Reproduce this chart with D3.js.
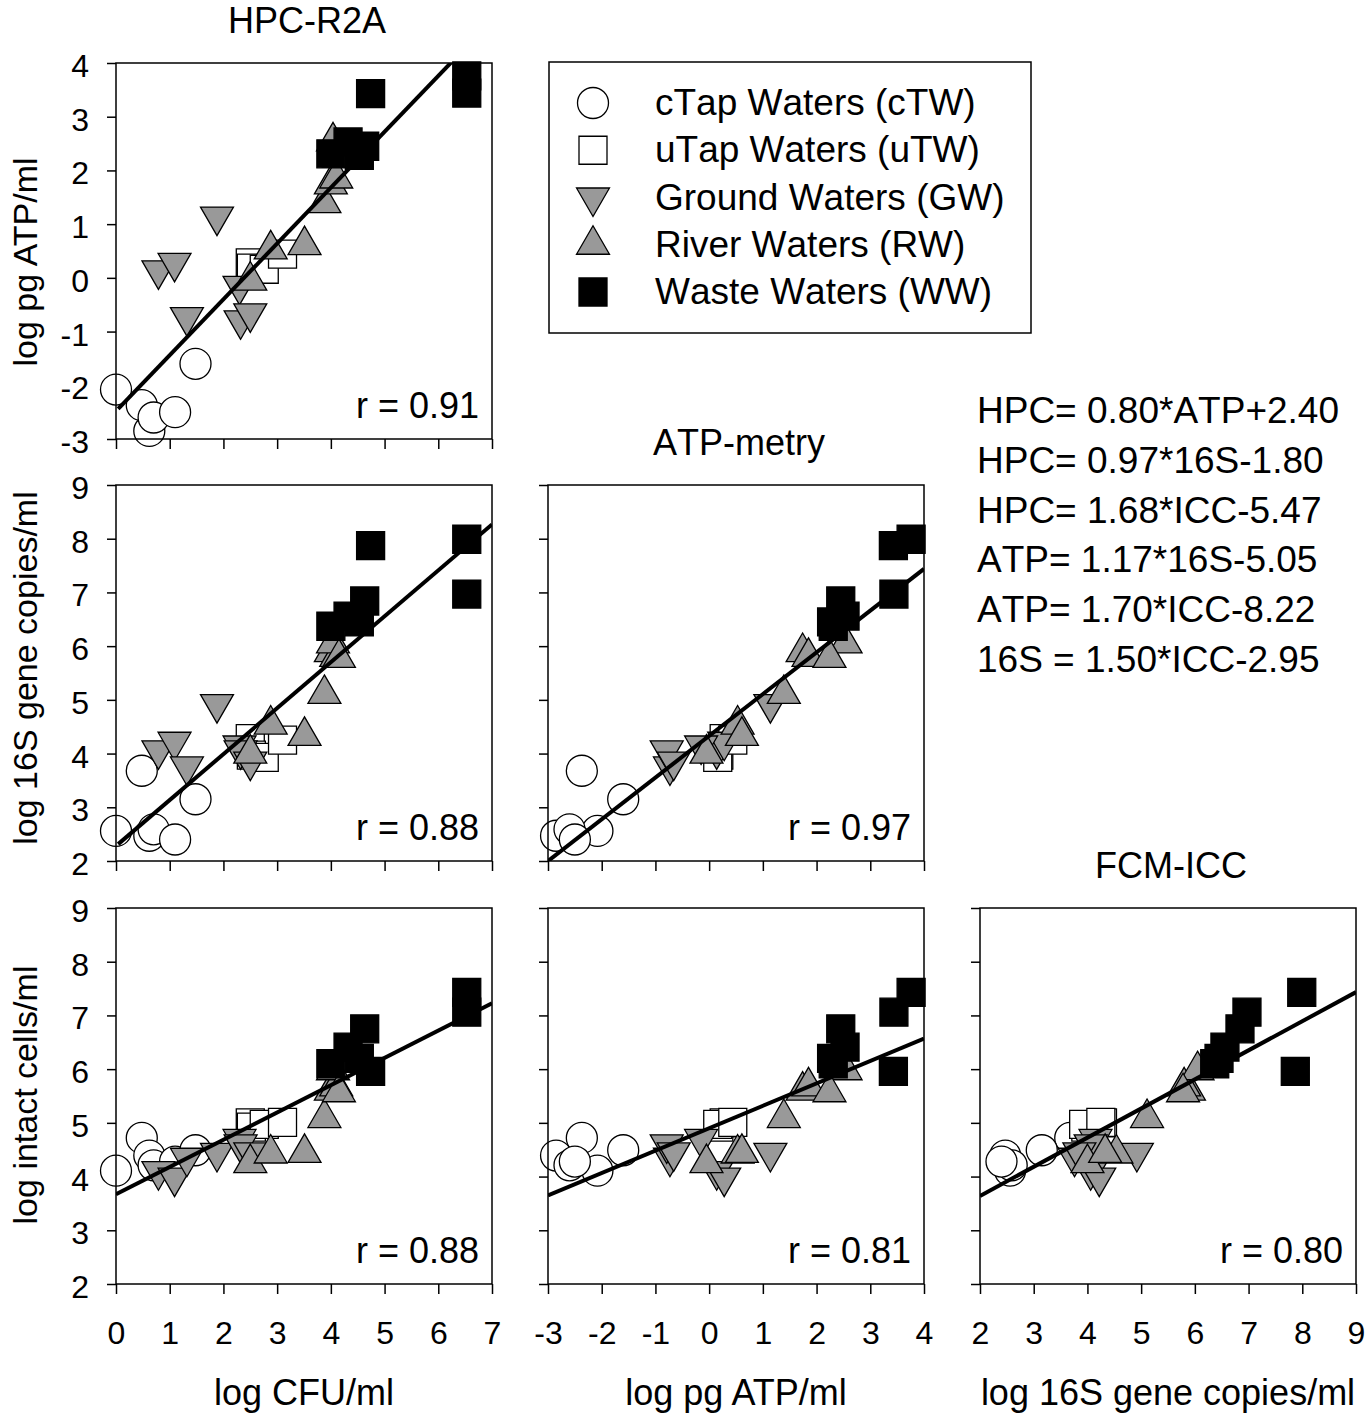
<!DOCTYPE html>
<html>
<head>
<meta charset="utf-8">
<script src="https://cdn.jsdelivr.net/npm/d3@7"></script>
<style>
  body { margin: 0; background: #fff; }
  svg text { font-family: "Liberation Sans", Arial, sans-serif; fill: #000; }
</style>
</head>
<body>
<svg id="chart" width="1371" height="1421"></svg>
<script>
// 試料のグループ(凡例の順)
const groupNames = ["cTW", "uTW", "GW", "RW", "WW"];
const legendLabels = [
  "cTap Waters (cTW)",
  "uTap Waters (uTW)",
  "Ground Waters (GW)",
  "River Waters (RW)",
  "Waste Waters (WW)",
];

// 試料ごとの値 (log)  HPC / ATP / 16S / ICC
const sampleGroup = [
  "cTW", "cTW", "cTW", "cTW", "cTW", "cTW",
  "uTW", "uTW", "uTW", "uTW",
  "GW", "GW", "GW", "GW", "GW", "GW", "GW",
  "RW", "RW", "RW", "RW", "RW", "RW", "RW", "RW",
  "WW", "WW", "WW", "WW", "WW", "WW", "WW",
];
const hpc = [
  0.0, 0.48, 0.62, 0.7, 1.1, 1.48,
  2.5, 2.52, 2.76, 3.1,
  0.79, 1.09, 1.32, 1.88, 2.3, 2.32, 2.5,
  2.5, 2.88, 3.51, 3.88, 4.0, 4.1, 4.04, 4.15,
  4.0, 4.32, 4.63, 4.53, 4.74, 6.53, 6.53,
];
const atp = [
  -2.08, -2.37, -2.85, -2.6, -2.5, -1.6,
  0.28, 0.18, 0.16, 0.44,
  0.14, 0.28, -0.73, 1.14, -0.15, -0.79, -0.66,
  -0.05, 0.53, 0.61, 1.39, 1.74, 1.85, 2.54, 2.24,
  2.31, 2.53, 2.45, 2.28, 3.43, 3.76, 3.44,
];
const s16 = [
  2.56, 3.68, 2.47, 2.59, 2.4, 3.15,
  4.28, 3.97, 3.93, 4.25,
  4.06, 4.22, 3.76, 4.92, 4.15, 4.06, 3.85,
  4.0, 4.54, 4.33, 5.11, 5.89, 5.8, 6.05, 5.78,
  6.37, 6.56, 6.84, 6.45, 7.87, 7.99, 6.97,
];
const icc = [
  4.11, 4.72, 4.39, 4.21, 4.28, 4.49,
  5.0, 4.92, 4.97, 5.01,
  4.1, 3.98, 4.35, 4.44, 4.7, 4.6, 4.45,
  4.25, 4.43, 4.44, 5.09, 5.6, 5.68, 5.98, 5.57,
  6.1, 6.41, 6.75, 6.2, 5.96, 7.43, 7.06,
];

// 変数と軸の範囲
const varValues = [hpc, atp, s16, icc];
const varDomains = [[0, 7], [-3, 4], [2, 9], [2, 9]];

// パネル: x変数, y変数, 行, 列
const panelXVar = [0, 0, 1, 0, 1, 2];
const panelYVar = [1, 2, 2, 3, 3, 3];
const panelRow = [0, 1, 1, 2, 2, 2];
const panelCol = [0, 0, 1, 0, 1, 2];

// 回帰直線 (y = slope * x + intercept) と r
const fitSlope = [1.04, 0.855, 0.777, 0.508, 0.417, 0.542];
const fitIntercept = [-2.48, 2.28, 4.33, 3.67, 4.9, 2.556];
const fitStart = [0.04, 0.04, -3, 0, -3, 2];
const rValues = ["0.91", "0.88", "0.97", "0.88", "0.81", "0.80"];

const diagTitles = ["HPC-R2A", "ATP-metry", "FCM-ICC"];
const xAxisLabels = ["log CFU/ml", "log pg ATP/ml", "log 16S gene copies/ml"];
const yAxisLabels = ["log pg ATP/ml", "log 16S gene copies/ml", "log intact cells/ml"];
const equations = [
  "HPC= 0.80*ATP+2.40",
  "HPC= 0.97*16S-1.80",
  "HPC= 1.68*ICC-5.47",
  "ATP= 1.17*16S-5.05",
  "ATP= 1.70*ICC-8.22",
  "16S = 1.50*ICC-2.95",
];

// レイアウト
const colX = [116, 548, 980];
const rowY = [63, 485, 908];
const side = 376;
const yLabelCenter = [262, 668, 1095];
const grayFill = "#999999";

const svg = d3.select("#chart");

// 記号の描き方
const markerStyle = {
  cTW: { type: d3.symbolCircle, size: 755, fill: "#fff", rot: 0 },
  uTW: { type: d3.symbolSquare, size: 784, fill: "#fff", rot: 0 },
  GW: { type: d3.symbolTriangle, size: 470, fill: grayFill, rot: 180 },
  RW: { type: d3.symbolTriangle, size: 470, fill: grayFill, rot: 0 },
  WW: { type: d3.symbolSquare, size: 784, fill: "#000", rot: 0 },
};

function drawMarker(sel, grp) {
  var m = markerStyle[grp];
  sel
    .attr("d", d3.symbol().type(m.type).size(m.size)())
    .attr("fill", m.fill)
    .attr("stroke", "#000")
    .attr("stroke-width", 1.3);
}

const sampleIdx = d3.range(hpc.length);

panelXVar.forEach((xv, i) => {
  var yv = panelYVar[i];
  var r = panelRow[i];
  var c = panelCol[i];
  var x = d3.scaleLinear().domain(varDomains[xv]).range([colX[c], colX[c] + side]);
  var y = d3.scaleLinear().domain(varDomains[yv]).range([rowY[r] + side, rowY[r]]);
  var g = svg.append("g").attr("class", "panel");

  // 左の目盛り
  var yAxis = d3
    .axisLeft(y)
    .tickValues(d3.range(varDomains[yv][0], varDomains[yv][1] + 1))
    .tickSize(9)
    .tickSizeOuter(0)
    .tickPadding(18)
    .tickFormat((d) => (c == 0 ? String(d) : ""));
  var ya = g.append("g").attr("transform", `translate(${colX[c]},0)`).call(yAxis);
  ya.select(".domain").remove();
  ya.attr("font-size", 32);
  ya.selectAll("line").attr("stroke-width", 1.5);
  ya.selectAll("text").attr("dy", "0.42em");

  // 下の目盛り
  var xAxis = d3
    .axisBottom(x)
    .tickValues(d3.range(varDomains[xv][0], varDomains[xv][1] + 1))
    .tickSize(10)
    .tickSizeOuter(0)
    .tickPadding(27)
    .tickFormat((d) => (r == 2 ? String(d) : ""));
  var xa = g.append("g").attr("transform", `translate(0,${rowY[r] + side})`).call(xAxis);
  xa.select(".domain").remove();
  xa.attr("font-size", 32);
  xa.selectAll("line").attr("stroke-width", 1.5);

  // 点
  g.append("g")
    .selectAll("path")
    .data(sampleIdx)
    .enter()
    .append("path")
    .attr("transform", (d) => {
      var rot = markerStyle[sampleGroup[d]].rot;
      return `translate(${x(varValues[xv][d])},${y(varValues[yv][d])}) rotate(${rot})`;
    })
    .each(function (d) {
      d3.select(this).call(drawMarker, sampleGroup[d]);
    });

  // 回帰直線 (枠でクリップ)
  var clipId = `clip${i}`;
  svg.append("clipPath").attr("id", clipId)
    .append("rect")
    .attr("x", colX[c]).attr("y", rowY[r])
    .attr("width", side).attr("height", side);
  var x0 = fitStart[i];
  var x1 = varDomains[xv][1];
  var line = d3.line().x((d) => x(d)).y((d) => y(fitSlope[i] * d + fitIntercept[i]));
  g.append("path")
    .datum([x0, x1])
    .attr("d", line)
    .attr("clip-path", `url(#${clipId})`)
    .attr("fill", "none")
    .attr("stroke", "#000")
    .attr("stroke-width", 4);

  // 枠
  g.append("rect")
    .attr("x", colX[c]).attr("y", rowY[r])
    .attr("width", side).attr("height", side)
    .attr("fill", "none")
    .attr("stroke", "#000")
    .attr("stroke-width", 1.5);

  // r
  g.append("text")
    .attr("x", colX[c] + side - 13)
    .attr("y", rowY[r] + side - 21)
    .attr("text-anchor", "end")
    .attr("font-size", 36)
    .text(`r = ${rValues[i]}`);
});

// 対角のタイトル
diagTitles.forEach((t, k) => {
  svg.append("text")
    .attr("x", colX[k] + side / 2 + 3)
    .attr("y", rowY[k] - 30)
    .attr("text-anchor", "middle")
    .attr("font-size", 36)
    .style("font-kerning", "none")
    .text(t);
});

// x軸ラベル
xAxisLabels.forEach((t, k) => {
  svg.append("text")
    .attr("x", colX[k] + side / 2)
    .attr("y", 1405)
    .attr("text-anchor", "middle")
    .attr("font-size", 36)
    .text(t);
});

// y軸ラベル
yAxisLabels.forEach((t, k) => {
  svg.append("text")
    .attr("transform", `translate(37,${yLabelCenter[k]}) rotate(-90)`)
    .attr("text-anchor", "middle")
    .attr("font-size", 34)
    .text(t);
});

// 凡例
const legend = svg.append("g");
legend.append("rect")
  .attr("x", 549).attr("y", 62)
  .attr("width", 482).attr("height", 271)
  .attr("fill", "none")
  .attr("stroke", "#000")
  .attr("stroke-width", 1.5);
const legendY = d3.scaleLinear().domain([0, 4]).range([103, 292]);
groupNames.forEach((grp, k) => {
  var m = markerStyle[grp];
  legend.append("path")
    .attr("transform", `translate(593,${legendY(k)}) rotate(${m.rot})`)
    .call(drawMarker, grp);
  legend.append("text")
    .attr("x", 655)
    .attr("y", legendY(k) + 12)
    .attr("font-size", 37)
    .style("font-kerning", "none")
    .text(legendLabels[k]);
});

// 回帰式
equations.forEach((t, k) => {
  svg.append("text")
    .attr("x", 977)
    .attr("y", 423 + k * 49.8)
    .attr("font-size", 37)
    .style("font-kerning", "none")
    .text(t);
});
</script>
</body>
</html>
